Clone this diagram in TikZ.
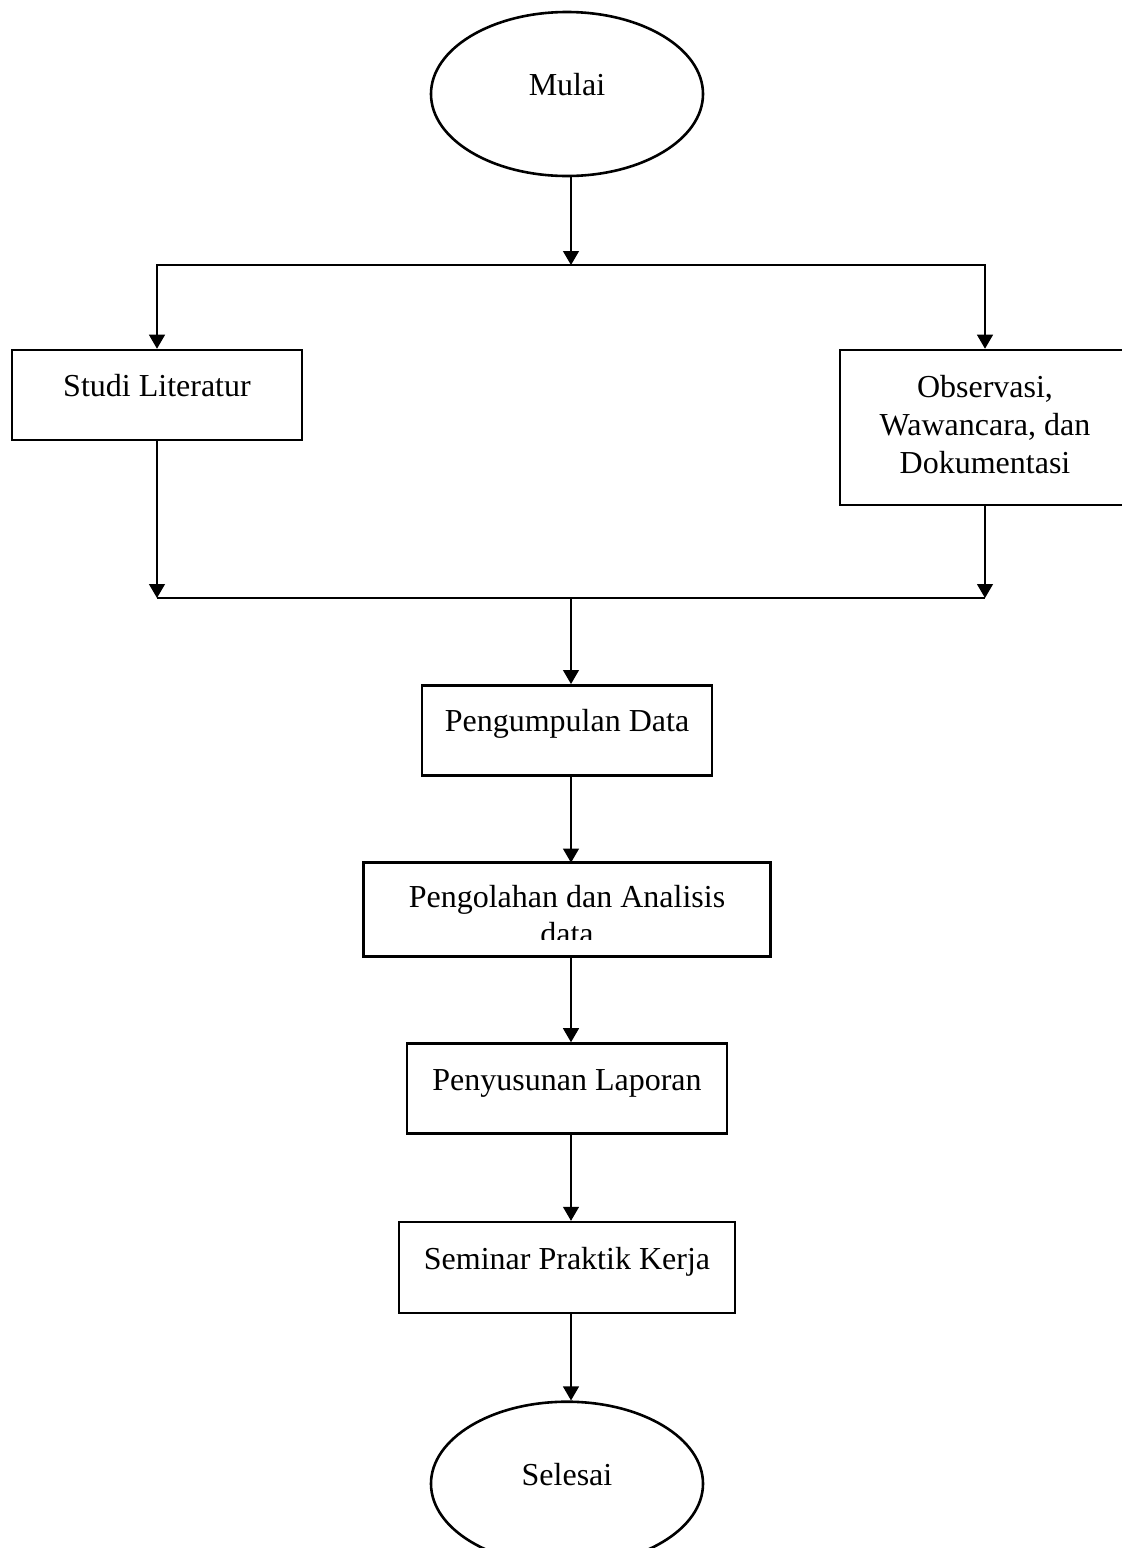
\documentclass[tikz,border=0pt]{standalone}
\usepackage{fontspec}
\setmainfont{Liberation Serif}
\usetikzlibrary{arrows.meta, positioning, shapes.geometric}

\begin{document}
\begin{tikzpicture}[
    x=0.5pt, y=-0.5pt,
    node distance=43pt,
    terminal/.style={ellipse, draw, line width=1.3pt, minimum width=136pt, minimum height=82pt, inner sep=0pt, font=\fontsize{16}{18.8}\selectfont, text height=11pt, text depth=9.5pt},
    proses/.style={rectangle, draw, line width=1.3pt, minimum height=45pt, inner sep=0pt, align=center, font=\fontsize{16}{18.8}\selectfont, text height=11pt, text depth=9.5pt},
    arrow/.style={-{Triangle[length=7pt, width=8pt]}, line width=0.6pt},
    garis/.style={line width=0.6pt}
]
\useasboundingbox (0,0) rectangle (1121,1548);

% Start and split point
\node[terminal] (mulai) at (567,94) {Mulai};
\coordinate (pisah) at (571,265);

% Two parallel activities
\node[proses, minimum width=145pt] (studi) at (157,395) {Studi Literatur};
\node[proses, minimum width=145pt, minimum height=77.5pt, text height=47pt, text depth=1.5pt] (obs) at (985,427.5) {Observasi,\\Wawancara, dan\\Dokumentasi};

% Merge point
\coordinate (gabung) at (571,598);

% Main column
\node[proses, minimum width=145pt, below=of gabung, xshift=-2pt] (kumpul) {Pengumpulan Data};
\begin{scope}
  \clip (300,850) rectangle (800,939);
  \node[proses, draw=none, minimum width=202pt, minimum height=45.5pt, text height=35.5pt, text depth=0pt, below=of kumpul] (olah) {Pengolahan dan Analisis\\data};
\end{scope}
\draw[line width=1.3pt] (olah.north west) rectangle (olah.south east);
\node[proses, minimum width=160pt, below=of olah] (susun) {Penyusunan Laporan};
\node[proses, minimum width=168pt, minimum height=45.5pt, below=of susun] (seminar) {Seminar Praktik Kerja};
\node[terminal, below=of seminar] (selesai) {Selesai};

% Arrows - split
\draw[arrow] (mulai.south -| pisah) -- (pisah);
\draw[arrow] (pisah) -| (studi);
\draw[arrow] (pisah) -| (obs);

% Arrows - merge
\draw[arrow] (studi) -- (studi |- gabung);
\draw[arrow] (obs) -- (obs |- gabung);
\draw[garis] (studi |- gabung) -- (obs |- gabung);

% Arrows - main column
\draw[arrow] (gabung) -- (kumpul.north -| gabung);
\draw[arrow] (kumpul.south -| gabung) -- (olah.north -| gabung);
\draw[arrow] (olah.south -| gabung) -- (susun.north -| gabung);
\draw[arrow] (susun.south -| gabung) -- (seminar.north -| gabung);
\draw[arrow] (seminar.south -| gabung) -- (selesai.north -| gabung);

\end{tikzpicture}
\end{document}
